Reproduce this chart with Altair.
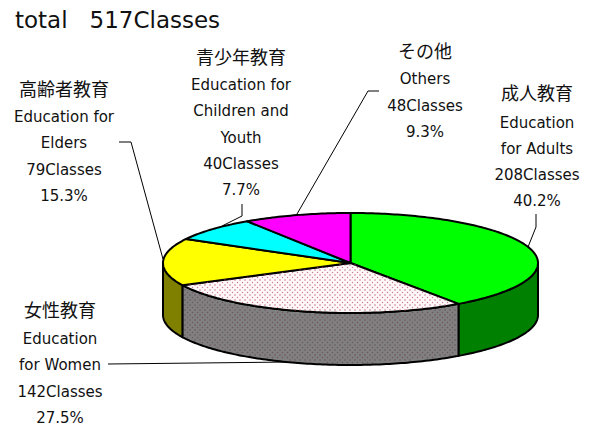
import numpy as np
import pandas as pd
import altair as alt

# --- chart values -------------------------------------------------------
categories = ["成人教育", "女性教育", "高齢者教育", "青少年教育", "その他"]
classes = [208, 142, 79, 40, 48]
top_colors = ["#00ff00", "#fff8f8", "#ffff00", "#00ffff", "#ff00ff"]
wall_colors = ["#008000", "#808080", "#808000", None, None]
title_text = "total\u00a0\u00a0\u00a0517Classes"

label_lines = [
    ["成人教育", "Education", "for Adults", "208Classes", "40.2%"],
    ["女性教育", "Education", "for Women", "142Classes", "27.5%"],
    ["高齢者教育", "Education for", "Elders", "79Classes", "15.3%"],
    ["青少年教育", "Education for", "Children and", "Youth", "40Classes", "7.7%"],
    ["その他", "Others", "48Classes", "9.3%"],
]

# --- layout (page pixels) ----------------------------------------------
W, H = 577, 412
CX, CY, RX, RY, DEPTH = 350.5, 263.0, 187.5, 50.0, 52.0
label_pos = [
    (537, [95, 123, 149, 175, 201]),
    (60, [312, 339, 365, 392, 418]),
    (64, [91, 117, 143, 170, 196]),
    (241, [59, 85, 111, 138, 164, 190]),
    (425, [53, 79, 106, 132]),
]
leaders = [
    [(536, 214), (536, 227), (528, 247)],
    [(108, 364), (290, 362)],
    [(119, 142), (131, 142), (163, 259)],
    [(242, 204), (242, 216), (222, 226)],
    [(379, 91), (368, 91), (297, 214)],
]

# --- geometry from values ----------------------------------------------
total = sum(classes)
edges = np.cumsum([0] + classes) / total * 2 * np.pi


def ell(t, dy=0.0):
    return CX + RX * np.sin(t) - 8, CY - RY * np.cos(t) + dy - 8


def arc(a, b):
    n = max(3, int(abs(b - a) * 60))
    return np.linspace(a, b, n)


xs = alt.X("x:Q", scale=alt.Scale(domain=[0, W], range=[0, W]), axis=None)
ys = alt.Y("y:Q", scale=alt.Scale(domain=[0, H], range=[0, H]), axis=None)


def poly(px, py, fill):
    df = pd.DataFrame({"x": px, "y": py, "i": range(len(px))})
    return (
        alt.Chart(df)
        .mark_line(fill=fill, stroke="black", strokeWidth=2, strokeJoin="round", clip=False)
        .encode(x=xs, y=ys, order="i:Q")
    )


layers = []

# leader lines go behind the pie
for pts in leaders:
    df = pd.DataFrame({"x": [p[0] - 8 for p in pts], "y": [p[1] - 8 for p in pts], "i": range(len(pts))})
    layers.append(alt.Chart(df).mark_line(color="black", strokeWidth=1).encode(x=xs, y=ys, order="i:Q"))

# front walls
for k, col in enumerate(wall_colors):
    if col is None:
        continue
    a, b = edges[k], edges[k + 1]
    a, b = max(a, np.pi / 2), min(b, 3 * np.pi / 2)
    t = arc(a, b)
    x1, y1 = ell(t)
    x2, y2 = ell(t[::-1], DEPTH)
    px = np.r_[x1, x2, x1[0]]
    py = np.r_[y1, y2, y1[0]]
    layers.append(poly(px, py, col))

# top slices
for k, col in enumerate(top_colors):
    t = arc(edges[k], edges[k + 1])
    x1, y1 = ell(t)
    px = np.r_[CX - 8, x1, CX - 8]
    py = np.r_[CY - 8, y1, CY - 8]
    layers.append(poly(px, py, col))

# stippled texture of the second slice
tx, ty, wx, wy = [], [], [], []
a, b = edges[1], edges[2]
for r, yy in enumerate(np.arange(205, 380, 2.5)):
    for xx in np.arange(150 + (r % 2) * 2.5, 480, 5.0):
        u, v = (xx - CX) / RX, (yy - CY) / RY
        th = np.arctan2(u, -v) % (2 * np.pi)
        if u * u + v * v < 0.975 and a + 0.01 < th < b - 0.01:
            tx.append(xx - 8)
            ty.append(yy - 8)
        elif abs(u) < 1:
            c = np.sqrt(1 - u * u)
            th_w = np.arctan2(u, -c) % (2 * np.pi)
            if CY + RY * c + 2 < yy < CY + DEPTH + RY * c - 2 and a + 0.01 < th_w < b - 0.01:
                wx.append(xx - 8)
                wy.append(yy - 8)
layers.append(
    alt.Chart(pd.DataFrame({"x": tx, "y": ty}))
    .mark_square(size=1.6, color="#b04870", opacity=0.7)
    .encode(x=xs, y=ys)
)
layers.append(
    alt.Chart(pd.DataFrame({"x": wx, "y": wy}))
    .mark_square(size=1.6, color="#602840", opacity=0.5)
    .encode(x=xs, y=ys)
)

# labels
rows = []
for lines, (lx, lys) in zip(label_lines, label_pos):
    for j, (s, ly) in enumerate(zip(lines, lys)):
        rows.append({"x": lx - 8, "y": ly - 8, "s": s, "head": j == 0})
labels = pd.DataFrame(rows)
layers.append(
    alt.Chart(labels[labels["head"]])
    .mark_text(font="Noto Sans CJK JP", fontSize=18, align="center", baseline="middle", color="#111111")
    .encode(x=xs, y=ys, text="s:N")
)
layers.append(
    alt.Chart(labels[~labels["head"]])
    .mark_text(font="DejaVu Sans", fontSize=15, align="center", baseline="middle", color="#111111")
    .encode(x=xs, y=ys, text="s:N")
)
layers.append(
    alt.Chart(pd.DataFrame({"x": [15 - 8], "y": [21 - 8], "s": [title_text]}))
    .mark_text(font="DejaVu Sans", fontSize=23, align="left", baseline="middle", color="#111111")
    .encode(x=xs, y=ys, text="s:N")
)

chart = (
    alt.layer(*layers)
    .properties(width=W, height=H, padding=0, background="white")
    .configure_view(stroke=None)
)
chart.save("out.html", embed_options={"renderer": "svg", "actions": False})
